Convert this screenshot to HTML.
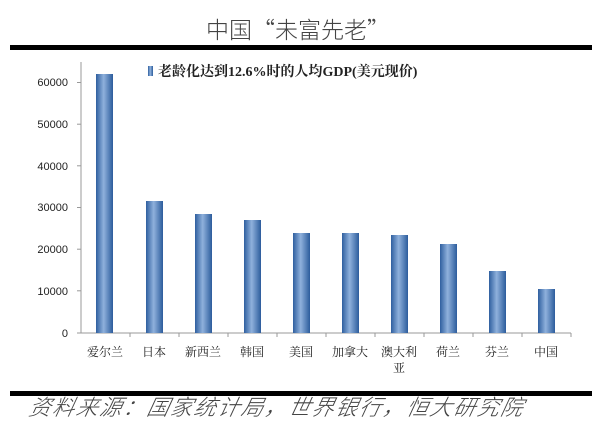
<!DOCTYPE html>
<html><head><meta charset="utf-8"><style>
body{margin:0;background:#fff;}
</style></head><body>
<svg width="600" height="421" xmlns="http://www.w3.org/2000/svg">
<defs><linearGradient id="g" x1="0" x2="1"><stop offset="0" stop-color="#2f5f9f"/><stop offset="0.45" stop-color="#8fb1dc"/><stop offset="1" stop-color="#2c5c9c"/></linearGradient></defs>
<rect width="600" height="421" fill="#fff"/>
<text x="298" y="38" font-family="Noto Sans CJK SC, sans-serif" font-size="23" font-weight="300" fill="#444" text-anchor="middle">中国“未富先老”</text>
<rect x="10" y="45" width="582" height="5" fill="#000"/>
<rect x="10" y="391" width="582" height="5" fill="#000"/>
<g font-family="Liberation Sans, sans-serif" font-size="11" fill="#222" text-anchor="end">
<text x="68" y="86">60000</text><text x="68" y="128">50000</text><text x="68" y="170">40000</text>
<text x="68" y="211">30000</text><text x="68" y="253">20000</text><text x="68" y="295">10000</text><text x="68" y="337">0</text>
</g>
<g stroke="#999" stroke-width="1">
<line x1="81" y1="62" x2="81" y2="333"/><line x1="81" y1="333" x2="571" y2="333"/>
<line x1="77" y1="82.5" x2="81" y2="82.5"/><line x1="77" y1="124.2" x2="81" y2="124.2"/><line x1="77" y1="165.8" x2="81" y2="165.8"/><line x1="77" y1="207.5" x2="81" y2="207.5"/><line x1="77" y1="249.2" x2="81" y2="249.2"/><line x1="77" y1="290.8" x2="81" y2="290.8"/><line x1="77" y1="333" x2="81" y2="333"/>
<line x1="130" y1="333" x2="130" y2="337"/><line x1="179" y1="333" x2="179" y2="337"/><line x1="228" y1="333" x2="228" y2="337"/><line x1="277" y1="333" x2="277" y2="337"/><line x1="326" y1="333" x2="326" y2="337"/><line x1="375" y1="333" x2="375" y2="337"/><line x1="424" y1="333" x2="424" y2="337"/><line x1="473" y1="333" x2="473" y2="337"/><line x1="522" y1="333" x2="522" y2="337"/><line x1="571" y1="333" x2="571" y2="337"/>
</g>
<g fill="url(#g)">
<rect x="96" y="74" width="17" height="259"/>
<rect x="146" y="201" width="17" height="132"/>
<rect x="195" y="214" width="17" height="119"/>
<rect x="244" y="220" width="17" height="113"/>
<rect x="293" y="233" width="17" height="100"/>
<rect x="342" y="233" width="17" height="100"/>
<rect x="391" y="235" width="17" height="98"/>
<rect x="440" y="244" width="17" height="89"/>
<rect x="489" y="271" width="17" height="62"/>
<rect x="538" y="289" width="17" height="44"/>
</g>
<rect x="148" y="66" width="5" height="10" fill="url(#g)"/>
<text x="158" y="76" font-family="Liberation Serif, Noto Serif CJK SC, serif" font-size="14" font-weight="bold" fill="#222">老龄化达到12.6%时的人均GDP(美元现价)</text>
<g font-family="Noto Serif CJK SC, serif" font-size="12" fill="#222" text-anchor="middle">
<text x="105" y="356">爱尔兰</text><text x="154" y="356">日本</text><text x="203" y="356">新西兰</text><text x="252" y="356">韩国</text><text x="301" y="356">美国</text><text x="350" y="356">加拿大</text><text x="399" y="356">澳大利</text><text x="399" y="372">亚</text><text x="448" y="356">荷兰</text><text x="497" y="356">芬兰</text><text x="546" y="356">中国</text>
</g>
<text x="28" y="415" font-family="Noto Sans CJK SC, sans-serif" font-size="22" font-weight="300" font-style="italic" letter-spacing="1.6" fill="#444" transform="skewX(-12) translate(88,0)">资料来源：国家统计局，世界银行，恒大研究院</text>
</svg>
</body></html>
